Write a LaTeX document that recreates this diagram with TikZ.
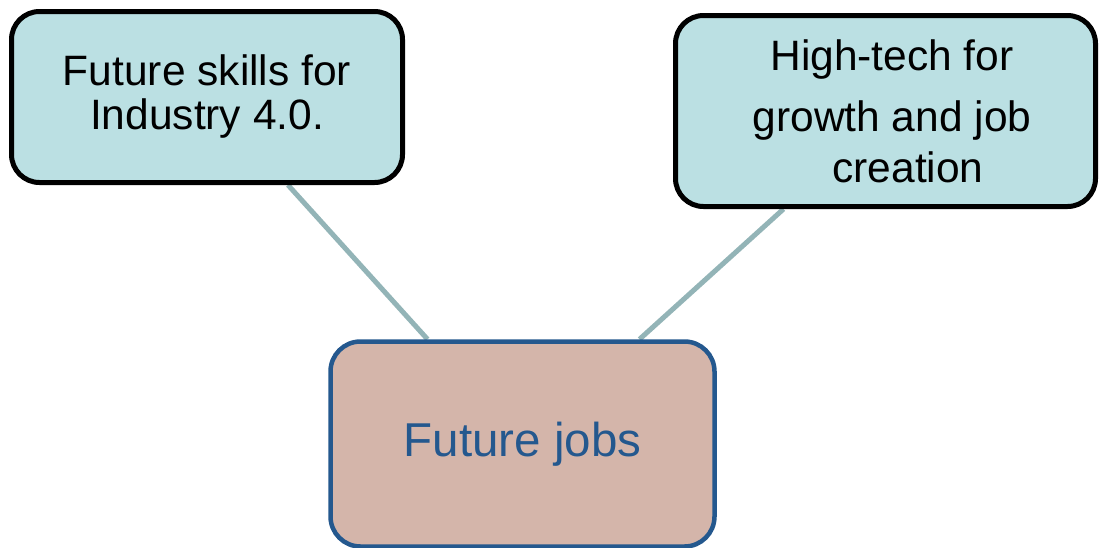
\documentclass[tikz,border=0pt]{standalone}
\usepackage{fontspec}
\setmainfont{Liberation Sans}
\usetikzlibrary{backgrounds}
\definecolor{topicfill}{RGB}{187,224,227}
\definecolor{corefill}{RGB}{212,181,170}
\definecolor{coreblue}{RGB}{36,88,142}
\definecolor{linkgray}{RGB}{147,180,183}

\begin{document}
\begin{tikzpicture}[x=1pt,y=1pt,
        topic/.style={draw=black,line width=5pt,fill=topicfill,rounded corners=28pt,align=center,font=\fontsize{42.5}{44}\selectfont},
        core/.style={draw=coreblue,line width=4.5pt,fill=corefill,rounded corners=30pt,text=coreblue,font=\fontsize{47.5}{52}\selectfont},
        link/.style={draw=linkgray,line width=5pt}]
        \useasboundingbox (0,0) rectangle (1099,-547);
        \node[topic,minimum width=391pt,minimum height=171pt] (skills) at (207,-97) {Future skills for\\Industry 4.0.};
        \node[topic,minimum width=420pt,minimum height=191pt,font=\fontsize{42.5}{51}\selectfont] (hightech) at (885.5,-111) {\hspace*{13pt}High-tech for\\[10pt]\hspace*{13pt}growth and job\\\hspace*{45pt}creation};
        \node[core,minimum width=384pt,minimum height=205pt] (jobs) at (522.5,-444) {Future jobs};
        \begin{scope}[on background layer]
        \draw[link] ([xshift=81pt]skills.south) -- ([xshift=-95pt]jobs.north);
        \draw[link] ([xshift=-102pt]hightech.south) -- ([xshift=117pt]jobs.north);
        \end{scope}
    \end{tikzpicture}
\end{document}
